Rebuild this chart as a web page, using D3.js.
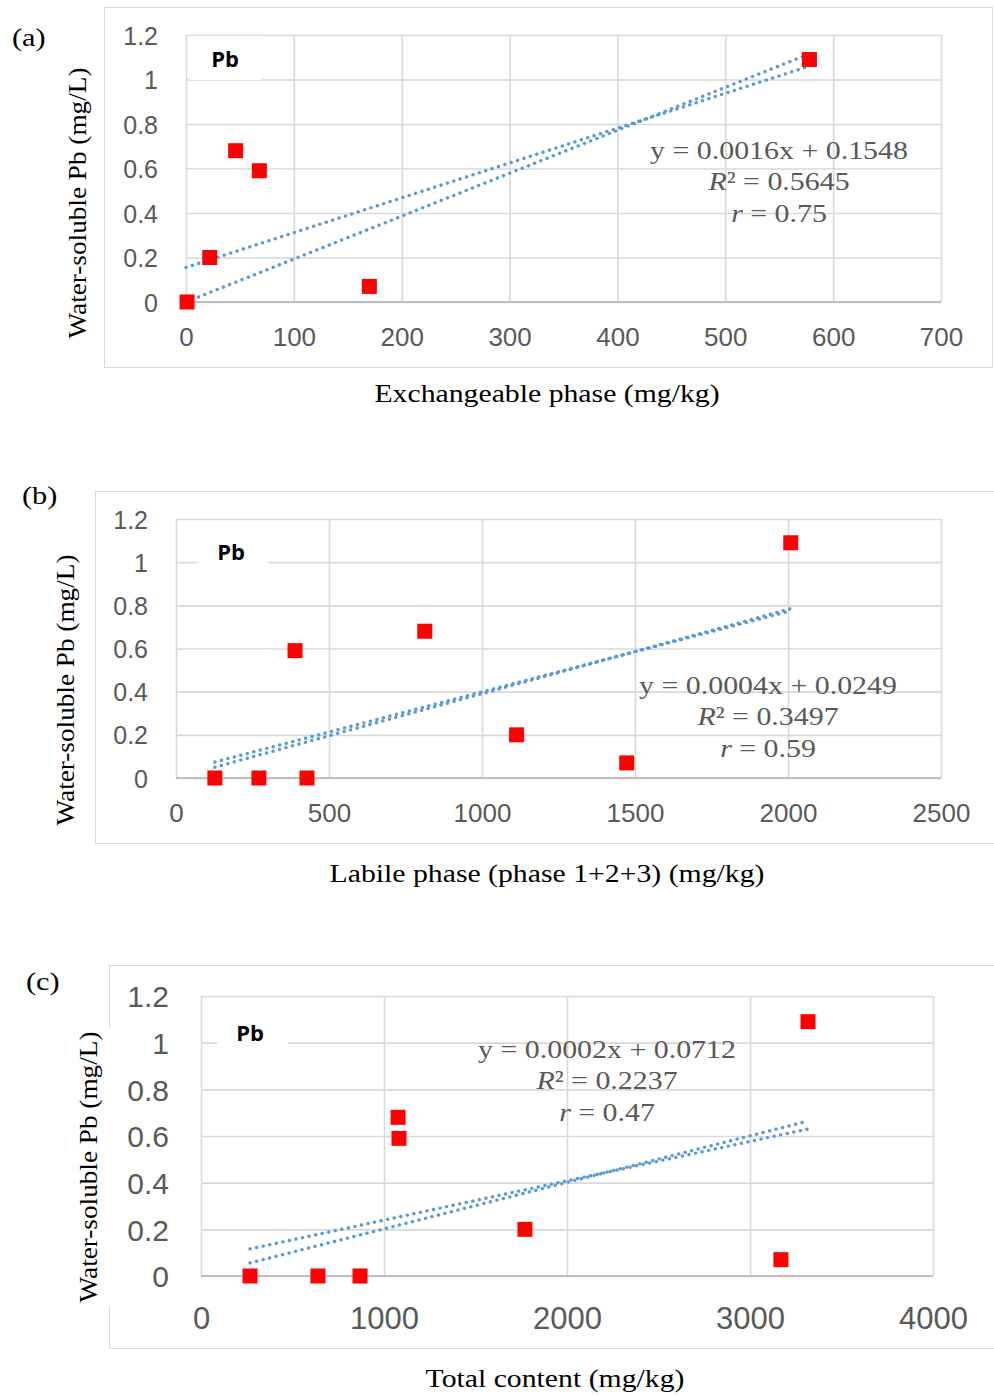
<!DOCTYPE html>
<html>
<head>
<meta charset="utf-8">
<script src="https://cdn.jsdelivr.net/npm/d3@7"></script>
<style>
  html, body { margin: 0; padding: 0; background: #fff; }
  svg { display: block; }
</style>
</head>
<body>
<svg id="chart" width="994" height="1396"></svg>
<script>
// ---------- DATA ----------
const yTicks = [0, 0.2, 0.4, 0.6, 0.8, 1, 1.2];
const yTickLabels = ["0", "0.2", "0.4", "0.6", "0.8", "1", "1.2"];

// (a) Exchangeable phase
const xTicksA = [0, 100, 200, 300, 400, 500, 600, 700];
const xA = [1, 22, 46, 68, 170, 578];
const yA = [0, 0.20, 0.68, 0.59, 0.07, 1.09];
const trendA1 = [[0, 0.155], [578, 1.06]];
const trendA2 = [[0, 0.0], [578, 1.115]];
const eqA = ["y = 0.0016x + 0.1548", "0.5645", "0.75"];

// (b) Labile phase
const xTicksB = [0, 500, 1000, 1500, 2000, 2500];
const xB = [127, 271, 428, 389, 813, 1113, 1473, 2009];
const yB = [0, 0, 0, 0.59, 0.68, 0.20, 0.07, 1.09];
const trendB1 = [[127, 0.074], [2010, 0.775]];
const trendB2 = [[127, 0.050], [2010, 0.785]];
const eqB = ["y = 0.0004x + 0.0249", "0.3497", "0.59"];

// (c) Total content
const xTicksC = [0, 1000, 2000, 3000, 4000];
const xC = [268, 639, 869, 1077, 1082, 1770, 3169, 3317];
const yC = [0, 0, 0, 0.68, 0.59, 0.20, 0.07, 1.09];
const trendC1 = [[268, 0.116], [3317, 0.630]];
const trendC2 = [[268, 0.056], [3317, 0.664]];
const eqC = ["y = 0.0002x + 0.0712", "0.2237", "0.47"];

const xTitles = ["Exchangeable phase (mg/kg)", "Labile phase (phase 1+2+3) (mg/kg)", "Total content (mg/kg)"];
const yTitle = "Water-soluble Pb (mg/L)";
const panelLabels = ["(a)", "(b)", "(c)"];
const seriesLabel = "Pb";

// ---------- LAYOUT ----------
const panels = [
  { xs: xA, ys: yA, xTicks: xTicksA, trends: [trendA1, trendA2], eq: eqA, xTitle: xTitles[0], label: panelLabels[0],
    frame: [104, 7, 888, 360], plot: [186, 35, 941, 302], tickFs: 25, xtickFs: 26, ytickGap: 28, xtickBase: 346,
    xTitleX: 547, xTitleY: 402, yTitleX: 77, yTitleY: 203, labelX: 12, labelY: 46,
    eqX: 779, eqY: 159, pbX: 225, pbY: 67, pbBox: [190, 36, 72, 44], yTitleBg: false },
  { xs: xB, ys: yB, xTicks: xTicksB, trends: [trendB1, trendB2], eq: eqB, xTitle: xTitles[1], label: panelLabels[1],
    frame: [95, 491, 905, 352], plot: [176, 519, 941, 778], tickFs: 25, xtickFs: 26, ytickGap: 28, xtickBase: 822,
    xTitleX: 547, xTitleY: 882, yTitleX: 65, yTitleY: 690, labelX: 22, labelY: 504,
    eqX: 768, eqY: 694, pbX: 231, pbY: 560, pbBox: [197, 530, 72, 34], yTitleBg: false },
  { xs: xC, ys: yC, xTicks: xTicksC, trends: [trendC1, trendC2], eq: eqC, xTitle: xTitles[2], label: panelLabels[2],
    frame: [109, 965, 890, 383], plot: [201, 996, 933, 1276], tickFs: 30, xtickFs: 31, ytickGap: 32, xtickBase: 1329,
    xTitleX: 555, xTitleY: 1387, yTitleX: 88, yTitleY: 1167, labelX: 26, labelY: 990,
    eqX: 607, eqY: 1058, pbX: 250, pbY: 1041, pbBox: [217, 1010, 71, 36], yTitleBg: true }
];

const svg = d3.select("#chart");
const gridColor = "#D9D9D9";
const textGray = "#595959";
const tickFont = "'Liberation Sans', Arial, sans-serif";
const serif = "'Liberation Serif', 'Times New Roman', serif";

panels.forEach(p => {
  const g = svg.append("g");
  const [fx, fy, fw, fh] = p.frame;
  g.append("rect").attr("x", fx + 0.5).attr("y", fy + 0.5).attr("width", fw).attr("height", fh)
    .attr("fill", "#fff").attr("stroke", gridColor).attr("stroke-width", 1);

  const [l, t, r, b] = p.plot;
  const x = d3.scaleLinear().domain([p.xTicks[0], p.xTicks[p.xTicks.length - 1]]).range([l, r]);
  const y = d3.scaleLinear().domain([0, 1.2]).range([b, t]);

  // horizontal gridlines
  const yAxis = d3.axisLeft(y).tickValues(yTicks).tickSize(-(r - l)).tickFormat((d, i) => yTickLabels[i]).tickPadding(p.ytickGap);
  const ya = g.append("g").attr("transform", `translate(${l},0)`).call(yAxis);
  ya.select(".domain").remove();
  ya.selectAll(".tick line").attr("stroke", gridColor).attr("stroke-width", 1.6);
  ya.selectAll(".tick text").attr("fill", textGray).style("font-family", tickFont).style("font-size", p.tickFs + "px")
    .attr("dy", "0.36em");

  // vertical gridlines
  const xAxis = d3.axisBottom(x).tickValues(p.xTicks).tickSize(-(b - t)).tickFormat(d3.format("d")).tickPadding(0);
  const xa = g.append("g").attr("transform", `translate(0,${b})`).call(xAxis);
  xa.select(".domain").remove();
  xa.selectAll(".tick line").attr("stroke", gridColor).attr("stroke-width", 1.6);
  xa.selectAll(".tick text").attr("fill", textGray).style("font-family", tickFont).style("font-size", p.xtickFs + "px")
    .attr("y", p.xtickBase - b).attr("dy", 0);

  // bottom axis line
  g.append("line").attr("x1", l).attr("x2", r).attr("y1", y(0)).attr("y2", y(0))
    .attr("stroke", "#BFBFBF").attr("stroke-width", 1.8);

  // white box behind "Pb"
  const [bx, by, bw, bh] = p.pbBox;
  g.append("rect").attr("x", bx).attr("y", by).attr("width", bw).attr("height", bh).attr("fill", "#fff");
  g.append("text").attr("x", p.pbX).attr("y", p.pbY).attr("text-anchor", "middle")
    .style("font-family", "'Open Sans', 'Noto Sans', sans-serif").style("font-weight", "bold").style("font-size", "22px")
    .attr("fill", "#000").text(seriesLabel);

  // trend lines
  const line = d3.line().x(d => x(d[0])).y(d => y(d[1]));
  p.trends.forEach(tr => {
    g.append("path").attr("d", line(tr)).attr("fill", "none").attr("stroke", "#5B9BD5")
      .attr("stroke-width", 3.4).attr("stroke-linecap", "round").attr("stroke-dasharray", "0.1 6.6");
  });

  // markers
  const pts = p.xs.map((v, i) => [v, p.ys[i]]);
  const s = 15;
  g.selectAll("rect.pt").data(pts).enter().append("rect").attr("class", "pt")
    .attr("x", d => x(d[0]) - s / 2).attr("y", d => y(d[1]) - s / 2)
    .attr("width", s).attr("height", s).attr("fill", "#FF0000");

  // equation text (horizontally widened to match reference)
  const eqG = g.append("g").attr("transform", `translate(${p.eqX},${p.eqY}) scale(1.15,1)`);
  const eq = eqG.append("text").attr("text-anchor", "middle").attr("fill", textGray)
    .style("font-family", serif).style("font-size", "26px");
  eq.append("tspan").attr("x", 0).attr("y", 0).text(p.eq[0]);
  const l2 = eq.append("tspan").attr("x", 0).attr("y", 31.5);
  l2.append("tspan").style("font-style", "italic").text("R");
  l2.append("tspan").text("² = " + p.eq[1]);
  const l3 = eq.append("tspan").attr("x", 0).attr("y", 63);
  l3.append("tspan").style("font-style", "italic").text("r");
  l3.append("tspan").text(" = " + p.eq[2]);

  // axis titles
  g.append("g").attr("transform", `translate(${p.xTitleX},${p.xTitleY}) scale(1.19,1)`)
    .append("text").attr("text-anchor", "middle")
    .style("font-family", serif).style("font-size", "25px").attr("fill", "#000").text(p.xTitle);

  const yt = g.append("g").attr("transform", `translate(${p.yTitleX},${p.yTitleY}) rotate(-90) scale(1.09,1)`);
  if (p.yTitleBg) {
    yt.append("rect").attr("x", -128).attr("y", -14).attr("width", 256).attr("height", 36).attr("fill", "#fff");
  }
  yt.append("text").attr("x", 0).attr("y", 9).attr("text-anchor", "middle")
    .style("font-family", serif).style("font-size", "25px").attr("fill", "#000").text(yTitle);

  // panel label
  g.append("g").attr("transform", `translate(${p.labelX},${p.labelY}) scale(1.17,1)`)
    .append("text").style("font-family", serif).style("font-size", "26px").attr("fill", "#000").text(p.label);
});
</script>
</body>
</html>
